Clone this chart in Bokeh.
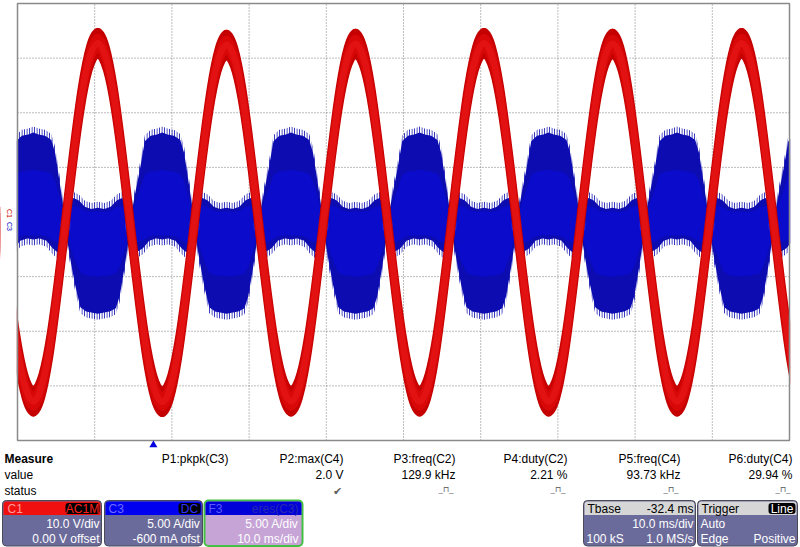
import numpy as np
from bokeh.plotting import figure
from bokeh.models import Range1d
from bokeh.embed import file_html
from bokeh.resources import INLINE
from bokeh.core.properties import value

time_range_ms = (-17.6, 82.4)          # 10 div x 10.0 ms/div, trigger at t = 0
c1_volts_per_div = 10.0
c3_amps_per_div = 5.0
c3_offset_a = -0.6
time_div_ms = 10.0

# C1 (red): zero crossings and extremes of the mains voltage
red_zero_t = [-19.70, -11.38, -3.03, 5.33, 13.62, 22.04, 30.33, 38.62, 47.04, 55.33, 63.62, 72.04, 80.33, 88.66]
red_ext_t = [-15.55, -7.20, 1.15, 9.48, 17.83, 26.19, 34.48, 42.83, 51.19, 59.48, 67.83, 76.19, 84.50]
red_ext_v = [-32.8, 32.7, -32.9, 32.4, -32.8, 32.6, -32.8, 32.7, -32.8, 32.6, -32.8, 32.7, -32.8]
red_band_v = 2.2                       # half thickness of the noisy trace (V)

# C3 (blue): envelope of the switching current across one half cycle (u = 0..1)
blob_u = [0.00, 0.03, 0.08, 0.15, 0.23, 0.32, 0.42, 0.50, 0.58, 0.68, 0.78, 0.84, 0.92, 0.97, 1.00]
blob_top = [1.0, 1.6, 3.2, 5.3, 8.0, 8.5, 8.6, 8.8, 8.6, 8.5, 8.1, 6.9, 3.8, 1.8, 1.0]          # red negative: upper edge
blob_bot = [-0.4, -1.2, -3.0, -5.2, -7.2, -7.6, -7.7, -7.8, -7.7, -7.6, -7.3, -6.2, -3.4, -1.4, -0.4]  # red positive: lower edge
ripple_u = [0.00, 0.05, 0.12, 0.20, 0.30, 0.40, 0.50, 0.60, 0.70, 0.80, 0.88, 0.95, 1.00]
ripple_top = [1.0, 2.0, 2.8, 2.6, 2.0, 1.8, 1.9, 1.8, 2.0, 2.6, 2.8, 2.0, 1.0]       # red positive: upper edge
ripple_bot = [-0.4, -1.4, -2.1, -1.8, -1.1, -0.9, -1.0, -0.9, -1.1, -1.8, -2.2, -1.5, -0.4]  # red negative: lower edge
pinch_a = 0.3                          # current level at the pinch points (A)

# measurement table
meas_names = ["P1:pkpk(C3)", "P2:max(C4)", "P3:freq(C2)", "P4:duty(C2)", "P5:freq(C4)", "P6:duty(C4)"]
meas_values = ["", "2.0 V", "129.9 kHz", "2.21 %", "93.73 kHz", "29.94 %"]
meas_status = ["", "\u2714", "_\u2293_", "_\u2293_", "_\u2293_", "_\u2293_"]

FONT = value("Liberation Sans")

# ---------------- layout (pixels) ----------------
W, H = 800, 547
GX0, GX1, GY0, GY1 = 17.0, 789.0, 3.0, 440.0      # graticule box
PY = 442                                           # top of the info panel

p = figure(width=W, height=H, output_backend="svg", toolbar_location=None,
           x_range=Range1d(0, W), y_range=Range1d(H, 0),
           x_axis_type=None, y_axis_type=None, min_border=0)
p.outline_line_color = None
p.xgrid.visible = False
p.ygrid.visible = False
p.background_fill_color = "white"
p.border_fill_color = "white"

def span_range(lo_val, hi_val, lo_px, hi_px, lo_canvas, hi_canvas):
    per_px = (hi_val - lo_val) / (hi_px - lo_px)
    return Range1d(lo_val + (lo_canvas - lo_px) * per_px, lo_val + (hi_canvas - lo_px) * per_px)

t0, t1 = time_range_ms
v_lo, v_hi = -4 * c1_volts_per_div, 4 * c1_volts_per_div
a_lo = -4 * c3_amps_per_div - c3_offset_a
a_hi = 4 * c3_amps_per_div - c3_offset_a
p.extra_x_ranges = {"t": span_range(t0, t1, GX0, GX1, 0, W)}
# y pixels grow downward: value at bottom (GY1) is the range low end
p.extra_y_ranges = {"volts": span_range(v_lo, v_hi, H - GY1, H - GY0, 0, H),
                    "amps": span_range(a_lo, a_hi, H - GY1, H - GY0, 0, H)}
TV = dict(x_range_name="t", y_range_name="volts")
TA = dict(x_range_name="t", y_range_name="amps")

# graticule
xt = [t0 + time_div_ms * k for k in range(1, 10)]
yt = [c1_volts_per_div * k for k in range(-3, 4)]
p.segment(x0=xt, x1=xt, y0=[v_lo] * len(xt), y1=[v_hi] * len(xt), line_color="#7a7a7a",
          line_dash="1 2", line_width=1, **TV)
p.segment(x0=[t0] * len(yt), x1=[t1] * len(yt), y0=yt, y1=yt, line_color="#7a7a7a",
          line_dash="1 2", line_width=1, **TV)

# blue envelope built from segment boundaries (red zero crossings)
bt, bh, bl = [], [], []
for j in range(len(red_ext_t)):
    a, b = red_zero_t[j], red_zero_t[j + 1]
    if red_ext_v[j] < 0:
        tu, tv, lu, lv = blob_u, blob_top, ripple_u, ripple_bot
    else:
        tu, tv, lu, lv = ripple_u, ripple_top, blob_u, blob_bot
    uu = sorted(set(tu) | set(lu))
    start = 0 if j == 0 else 1
    hi = np.interp(uu, tu, tv)
    lo = np.interp(uu, lu, lv)
    for k in range(start, len(uu)):
        bt.append(a + uu[k] * (b - a))
        bh.append(hi[k])
        bl.append(lo[k])
bt = np.array(bt); bh = np.array(bh); bl = np.array(bl)
fr = 0.55  # fringe of switching spikes (A)
p.varea(x=bt, y1=bh - 0.3, y2=bh + fr, fill_alpha=0, hatch_pattern="vertical_line",
        hatch_color="#0c0cb0", hatch_scale=2.5, hatch_weight=1, **TA)
p.varea(x=bt, y1=bl - fr, y2=bl + 0.3, fill_alpha=0, hatch_pattern="vertical_line",
        hatch_color="#0c0cb0", hatch_scale=2.5, hatch_weight=1, **TA)
p.varea(x=bt, y1=bl, y2=bh, fill_color="#0c0cb0", **TA)
core_hi = np.minimum(bh, 1.2 + (bh - 1.2) * 0.55)
core_lo = np.maximum(bl, -0.2 + (bl + 0.2) * 0.55)
p.varea(x=bt, y1=core_lo, y2=core_hi, fill_color="#0b0bcc", **TA)
# brighter glow where the current pinches at the zero crossings
p.ellipse(x=red_zero_t, y=[pinch_a] * len(red_zero_t), width=1.3, height=1.6,
          fill_color="#2a3cff", fill_alpha=0.75, line_color=None, **TA)

# red trace as cubic Bezier quarter waves between zero crossings and extremes
k1, k2, ky = 0.32614, 0.63809, 0.5122866
def quarter_beziers(d):
    x0, y0, x1, y1, cx0, cy0, cx1, cy1 = [], [], [], [], [], [], [], []
    for i, (e, A) in enumerate(zip(red_ext_t, red_ext_v)):
        zb, za = red_zero_t[i], red_zero_t[i + 1]
        x0 += [zb, e]; y0 += [d, A + d]
        x1 += [e, za]; y1 += [A + d, d]
        cx0 += [zb + k1 * (e - zb), za + k2 * (e - za)]
        cy0 += [ky * A + d, A + d]
        cx1 += [zb + k2 * (e - zb), za + k1 * (e - za)]
        cy1 += [A + d, ky * A + d]
    return dict(x0=x0, y0=y0, x1=x1, y1=y1, cx0=cx0, cy0=cy0, cx1=cx1, cy1=cy1)

for f, col in ((1.0, "#c40000"), (-1.0, "#c40000"), (0.5, "#d80808"), (-0.5, "#d80808"), (0.0, "#e21212")):
    p.bezier(**quarter_beziers(f * red_band_v), line_color=col, line_width=6.5, line_cap="round", **TV)

# mask outside the graticule and draw its frame
p.quad(left=[-10, GX1 + 0.7, -10, -10], right=[GX0 - 0.7, W + 10, W + 10, W + 10],
       top=[-10, -10, -10, GY1 + 0.7], bottom=[GY1 + 1, GY1 + 1, GY0 - 0.7, H + 10],
       fill_color="white", line_color=None)
p.quad(left=[GX0], right=[GX1], top=[GY0], bottom=[GY1], fill_color=None,
       line_color="#8a8a8a", line_width=1.5)

# channel markers at the left edge
p.text(x=[9], y=[213], text=["C1"], text_color="#d00000", text_font_size="7px",
       text_align="center", text_baseline="middle", angle=-np.pi / 2, text_font=FONT)
p.text(x=[9], y=[226], text=["C3"], text_color="#0000c0", text_font_size="7px",
       text_align="center", text_baseline="middle", angle=-np.pi / 2, text_font=FONT)

# trigger marker at t = 0
p.scatter(x=[0.0], y=[PY + 2.5], marker="triangle", size=8, fill_color="#0000e0",
          line_color=None, x_range_name="t")

# ---------------- bottom panel ----------------
def txt(x, y, s, color="black", size="12px", align="left", style="normal"):
    p.text(x=[x], y=[PY + y], text=[s], text_color=color, text_font_size=size, text_align=align,
           text_baseline="middle", text_font=FONT, text_font_style=style)

txt(4, 16, "Measure", style="bold")
txt(4, 32, "value")
txt(4, 48, "status")
col_right = [228, 343, 455, 567, 680, 792]
for xr, n, v, s in zip(col_right, meas_names, meas_values, meas_status):
    txt(xr, 16, n, align="right")
    if v:
        txt(xr, 32, v, align="right")
    if s:
        if s == "\u2714":
            txt(xr - 2, 48, s, color="#606060", size="11px", align="right")
        else:
            txt(xr - 2, 47, s, color="#555555", size="8px", align="right")

BODY = "#6b6b9b"
def box(l, r, head, body=BODY, border="#4a4a58", bw=1):
    p.quad(left=[l], right=[r], top=[PY + 58], bottom=[PY + 103.5], fill_color=body, line_color=border,
           line_width=bw, border_radius=4)
    p.quad(left=[l + 1], right=[r - 1], top=[PY + 59], bottom=[PY + 72.5], fill_color=head,
           line_color=None, border_radius=(3, 3, 0, 0))

def tag(l, r, s, color):
    p.quad(left=[l], right=[r], top=[PY + 60.5], bottom=[PY + 71.5], fill_color="black",
           line_color=None, border_radius=3)
    txt((l + r) / 2, 66, s, color=color, align="center")

box(2, 101, "#f01010")
txt(7, 66, "C1", color="#ff9a9a")
tag(65, 99, "AC1M", "#ff2020")
txt(99, 81, "10.0 V/div", color="white", align="right")
txt(99, 96, "0.00 V offset", color="white", align="right")

box(104, 202, "#0000f0")
txt(108, 66, "C3", color="#6c6cff")
tag(178, 200, "DC", "#3030ff")
txt(200, 81, "5.00 A/div", color="white", align="right")
txt(200, 96, "-600 mA ofst", color="white", align="right")

box(204, 302, "#0000d8", body="#c6a4d6", border="#44c044", bw=2)
txt(208, 66, "F3", color="#5a5aff")
txt(298, 66, "eres(C3)", color="#2a2ab0", align="right")
txt(298, 81, "5.00 A/div", color="white", align="right")
txt(298, 96, "10.0 ms/div", color="white", align="right")

box(583, 695, "#d6d6d6")
txt(587, 66, "Tbase")
txt(693, 66, "-32.4 ms", align="right")
txt(693, 81, "10.0 ms/div", color="white", align="right")
txt(586, 96, "100 kS", color="white")
txt(693, 96, "1.0 MS/s", color="white", align="right")

box(697, 797, "#d6d6d6")
txt(701, 66, "Trigger")
tag(768, 795, "Line", "white")
txt(700, 81, "Auto", color="white")
txt(700, 96, "Edge", color="white")
txt(795, 96, "Positive", color="white", align="right")

open("out.html", "w").write(file_html(p, INLINE))
